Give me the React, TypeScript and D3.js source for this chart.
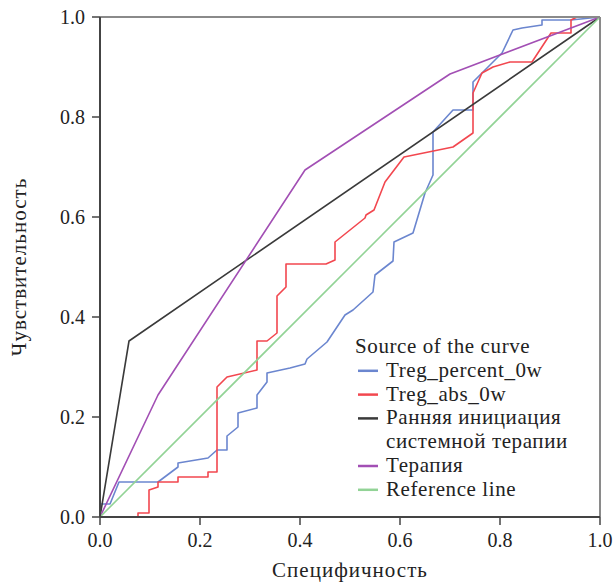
import React from "react";
import * as d3 from "d3";

// ROC curves: [1 - specificity, sensitivity]
const tregPercent: [number, number][] = [
  [0, 0], [0, 0.026], [0.02, 0.026], [0.038, 0.07], [0.116, 0.07], [0.156, 0.1],
  [0.156, 0.108], [0.216, 0.118], [0.234, 0.134], [0.254, 0.134], [0.254, 0.162],
  [0.276, 0.18], [0.276, 0.208], [0.314, 0.218], [0.314, 0.244], [0.334, 0.27],
  [0.334, 0.288], [0.38, 0.298], [0.41, 0.306], [0.414, 0.316], [0.454, 0.35],
  [0.49, 0.404], [0.506, 0.414], [0.546, 0.45], [0.55, 0.484], [0.586, 0.512],
  [0.588, 0.55], [0.626, 0.568], [0.65, 0.648], [0.666, 0.684], [0.666, 0.77],
  [0.706, 0.814], [0.746, 0.814], [0.746, 0.87], [0.766, 0.89], [0.804, 0.928],
  [0.826, 0.974], [0.844, 0.978], [0.884, 0.984], [0.884, 0.994], [0.942, 0.994],
  [1, 1],
];

const tregAbs: [number, number][] = [
  [0, 0], [0.076, 0], [0.076, 0.008], [0.098, 0.008], [0.098, 0.054], [0.116, 0.06],
  [0.116, 0.07], [0.156, 0.07], [0.156, 0.08], [0.216, 0.08], [0.216, 0.09],
  [0.234, 0.09], [0.234, 0.26], [0.254, 0.28], [0.314, 0.294], [0.314, 0.352],
  [0.334, 0.352], [0.354, 0.368], [0.354, 0.442], [0.372, 0.46], [0.372, 0.506],
  [0.452, 0.506], [0.47, 0.514], [0.47, 0.55], [0.53, 0.598], [0.532, 0.604],
  [0.548, 0.614], [0.57, 0.67], [0.608, 0.72], [0.706, 0.74], [0.746, 0.768],
  [0.746, 0.848], [0.764, 0.888], [0.786, 0.9], [0.82, 0.91], [0.864, 0.91],
  [0.902, 0.968], [0.942, 0.968], [0.942, 0.994], [0.954, 1], [1, 1],
];

const earlyStart: [number, number][] = [[0, 0], [0.058, 0.352], [1, 1]];

const therapy: [number, number][] = [[0, 0], [0.116, 0.244], [0.41, 0.694], [0.7, 0.886], [1, 1]];

const reference: [number, number][] = [[0, 0], [1, 1]];

const ticks = [0, 0.2, 0.4, 0.6, 0.8, 1.0];

const legendTitle = "Source of the curve";
const series = [
  { name: ["Treg_percent_0w"], color: "#6b86cf", data: tregPercent },
  { name: ["Treg_abs_0w"], color: "#f2474f", data: tregAbs },
  { name: ["Ранняя инициация", "системной терапии"], color: "#3a3a3a", data: earlyStart },
  { name: ["Терапия"], color: "#a24fb4", data: therapy },
  { name: ["Reference line"], color: "#92d396", data: reference },
];

const font = "Liberation Serif, Times New Roman, serif";

export default function App() {
  const left = 100, top = 17, size = 500;
  const x = d3.scaleLinear().domain([0, 1]).range([left, left + size]);
  const y = d3.scaleLinear().domain([0, 1]).range([top + size, top]);
  const line = d3.line<[number, number]>().x(d => x(d[0])).y(d => y(d[1]));

  // legend rows
  let row = 0;
  const legendX = 355, legendY0 = 353, step = 23.8;

  return (
    <svg width={615} height={582} fontFamily={font} fontSize={20} style={{ position: "absolute", left: 0, top: 0, background: "#fff" }}>
      <rect x={0} y={0} width={615} height={582} fill="#fff" />
      {series.map((s, i) => (
        <path key={i} d={line(s.data) || ""} fill="none" stroke={s.color} strokeWidth={1.6} strokeLinejoin="round" />
      ))}

      {/* frame */}
      <line x1={x(0)} x2={x(1)} y1={y(1)} y2={y(1)} stroke="#8a8a8a" strokeWidth={2} />
      <line x1={x(1)} x2={x(1)} y1={y(1)} y2={y(0)} stroke="#8a8a8a" strokeWidth={2} />
      <line x1={x(0)} x2={x(1)} y1={y(0)} y2={y(0)} stroke="#444" strokeWidth={2} />
      <line x1={x(0)} x2={x(0)} y1={y(1)} y2={y(0)} stroke="#444" strokeWidth={2} />

      {ticks.map(t => (
        <g key={"x" + t}>
          <line x1={x(t)} x2={x(t)} y1={y(0)} y2={y(0) + 8} stroke="#444" strokeWidth={1.5} />
          <text x={x(t)} y={y(0) + 30} textAnchor="middle" fill="#222">
            {t.toFixed(1)}
          </text>
        </g>
      ))}
      {ticks.map(t => (
        <g key={"y" + t}>
          <line x1={x(0) - 8} x2={x(0)} y1={y(t)} y2={y(t)} stroke="#444" strokeWidth={1.5} />
          <text x={x(0) - 15} y={y(t) + 6.5} textAnchor="end" fill="#222">
            {t.toFixed(1)}
          </text>
        </g>
      ))}

      <text x={350} y={577} textAnchor="middle" fill="#222" fontSize={21} letterSpacing={1}>
        Специфичность
      </text>
      <text transform="translate(26,267) rotate(-90)" textAnchor="middle" fill="#222" fontSize={21} letterSpacing={1}>
        Чувствительность
      </text>

      {/* legend */}
      <g fontSize={21} letterSpacing={0.6}>
        <text x={legendX} y={legendY0} fill="#222">{legendTitle}</text>
        {series.map((s, i) => {
          const start = row;
          row += s.name.length;
          const by = legendY0 + step * (start + 1);
          return (
            <g key={"l" + i}>
              <line x1={legendX + 3} x2={legendX + 23} y1={by - 6} y2={by - 6} stroke={s.color} strokeWidth={2.5} />
              {s.name.map((n, j) => (
                <text key={j} x={legendX + 31} y={by + step * j} fill="#222">{n}</text>
              ))}
            </g>
          );
        })}
      </g>
    </svg>
  );
}
